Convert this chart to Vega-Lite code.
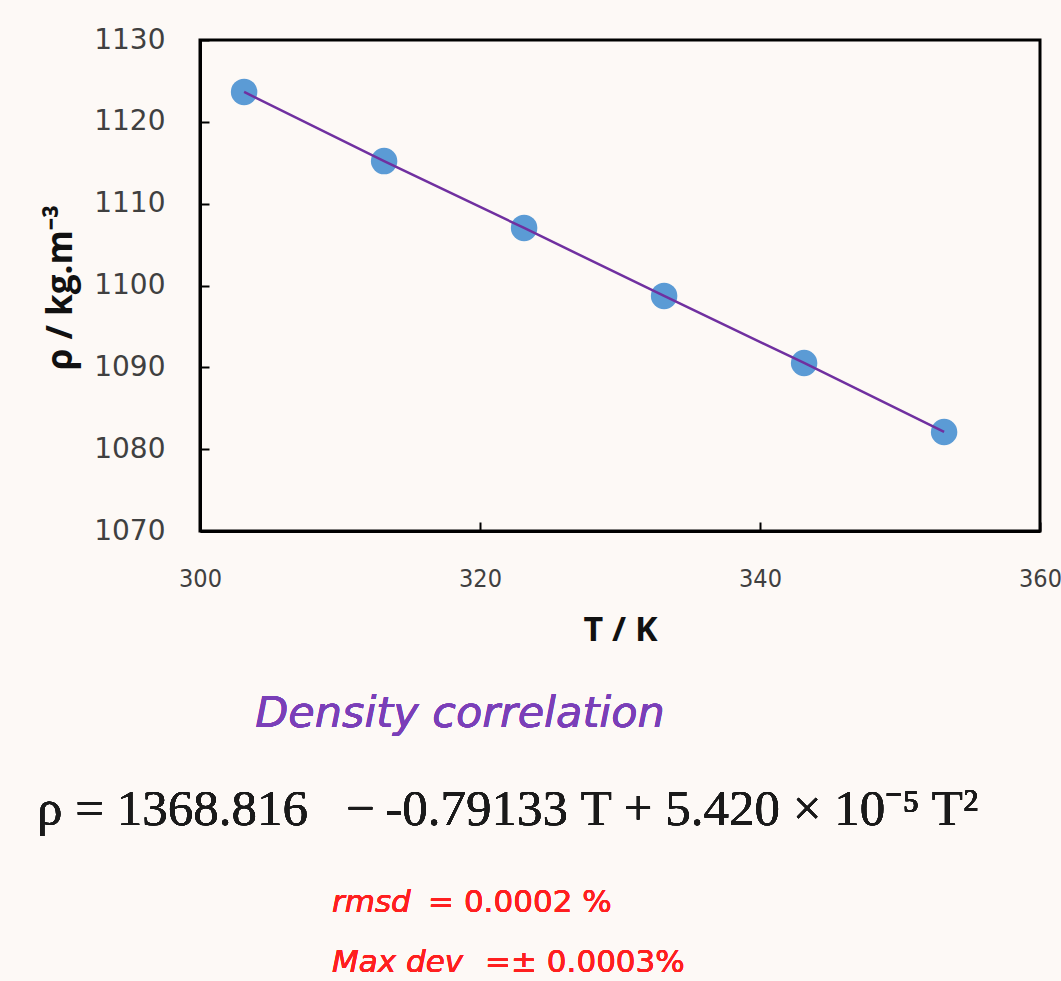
{
  "$schema": "https://vega.github.io/schema/vega-lite/v6.json",
  "autosize": {"type": "none"},
  "padding": {"left": 200, "top": 40, "right": 21, "bottom": 450},
  "width": 840,
  "height": 491,
  "background": "#fdf9f6",
  "config": {
    "view": {"stroke": "#000000", "strokeWidth": 3},
    "axis": {"grid": false}
  },
  "data": {
    "values": [
      {"T": 303.15, "rho": 1123.65},
      {"T": 313.15, "rho": 1115.21},
      {"T": 323.15, "rho": 1107.03},
      {"T": 333.15, "rho": 1098.72},
      {"T": 343.15, "rho": 1090.53},
      {"T": 353.15, "rho": 1082.10}
    ]
  },
  "layer": [
    {
      "mark": {"type": "point", "filled": true, "size": 700, "color": "#5b9bd5", "opacity": 1},
      "encoding": {
        "x": {
          "field": "T", "type": "quantitative",
          "scale": {"domain": [300, 360], "nice": false, "zero": false},
          "axis": {
            "values": [300, 320, 340, 360], "format": "d",
            "domainColor": "#000000", "domainWidth": 3,
            "tickColor": "#000000", "tickWidth": 2, "tickSize": -9,
            "labelFont": "DejaVu Sans Condensed", "labelFontSize": 25, "labelColor": "#404040",
            "labelPadding": 44, "labelFlush": false, "labelOverlap": false, "labelBound": false,
            "title": "T / K", "titleFont": "Open Sans", "titleFontSize": 34, "titleFontWeight": "bold",
            "titleColor": "#111111", "titleX": 420, "titleY": 99, "titleBaseline": "middle", "titleAlign": "center"
          }
        },
        "y": {
          "field": "rho", "type": "quantitative",
          "scale": {"domain": [1070, 1130], "nice": false, "zero": false},
          "axis": {
            "values": [1070, 1080, 1090, 1100, 1110, 1120, 1130], "format": "d",
            "domainColor": "#000000", "domainWidth": 3,
            "tickColor": "#000000", "tickWidth": 2, "tickSize": -9,
            "labelFont": "DejaVu Sans", "labelFontSize": 28, "labelColor": "#404040",
            "labelPadding": 44, "labelOverlap": false, "labelBound": false, "labelFlush": false,
            "title": "ρ / kg.m⁻³", "titleFont": "Open Sans", "titleFontSize": 35, "titleFontWeight": "bold",
            "titleColor": "#111111", "titleAngle": -90, "titleX": -140, "titleY": 247,
            "titleBaseline": "middle", "titleAlign": "center"
          }
        }
      }
    },
    {
      "mark": {"type": "line", "color": "#7030a0", "strokeWidth": 2.5},
      "encoding": {
        "x": {"field": "T", "type": "quantitative"},
        "y": {"field": "rho", "type": "quantitative"}
      }
    },
    {
      "mark": {"type": "text", "font": "DejaVu Sans", "fontStyle": "italic", "fontSize": 43, "color": "#7a3fb8", "align": "center", "baseline": "alphabetic"},
      "encoding": {
        "x": {"datum": 318.57, "type": "quantitative"},
        "y": {"datum": 1046.05, "type": "quantitative"},
        "text": {"value": "Density correlation"}
      }
    },
    {
      "mark": {"type": "text", "font": "Liberation Serif", "fontSize": 51, "color": "#1a1a1a", "align": "left", "baseline": "alphabetic"},
      "encoding": {
        "x": {"datum": 288.36, "type": "quantitative"},
        "y": {"datum": 1034.07, "type": "quantitative"},
        "text": {"value": "ρ = 1368.816\u00a0\u00a0\u00a0−\u2009-0.79133 T + 5.420 × 10⁻⁵ T²"}
      }
    },
    {
      "mark": {"type": "text", "font": "DejaVu Sans", "fontStyle": "italic", "fontSize": 31, "color": "#ff1f1f", "align": "left", "baseline": "alphabetic"},
      "encoding": {
        "x": {"datum": 309.43, "type": "quantitative"},
        "y": {"datum": 1023.44, "type": "quantitative"},
        "text": {"value": "rmsd"}
      }
    },
    {
      "mark": {"type": "text", "font": "DejaVu Sans", "fontSize": 31, "color": "#ff1f1f", "align": "left", "baseline": "alphabetic"},
      "encoding": {
        "x": {"datum": 316.29, "type": "quantitative"},
        "y": {"datum": 1023.44, "type": "quantitative"},
        "text": {"value": "= 0.0002 %"}
      }
    },
    {
      "mark": {"type": "text", "font": "DejaVu Sans", "fontStyle": "italic", "fontSize": 31, "color": "#ff1f1f", "align": "left", "baseline": "alphabetic"},
      "encoding": {
        "x": {"datum": 309.43, "type": "quantitative"},
        "y": {"datum": 1016.1, "type": "quantitative"},
        "text": {"value": "Max dev"}
      }
    },
    {
      "mark": {"type": "text", "font": "DejaVu Sans", "fontSize": 31, "color": "#ff1f1f", "align": "left", "baseline": "alphabetic"},
      "encoding": {
        "x": {"datum": 320.36, "type": "quantitative"},
        "y": {"datum": 1016.1, "type": "quantitative"},
        "text": {"value": "=± 0.0003%"}
      }
    }
  ]
}
